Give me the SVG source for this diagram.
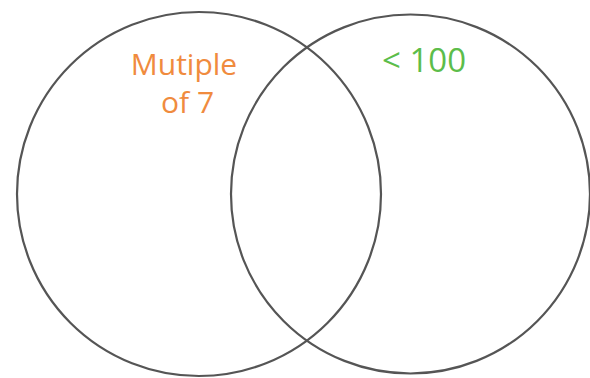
<svg xmlns="http://www.w3.org/2000/svg" width="590" height="378" viewBox="0 0 590 378">
<style>
.c{fill:none;stroke:#555;stroke-width:2.2}
.t{font-family:"Open Sans","Noto Sans",sans-serif;text-anchor:middle}
.o{fill:#f08b3e;font-size:30px;font-weight:500}
.g{fill:#5cbd4a;font-size:33px;font-weight:400}
</style>
<rect width="590" height="378" fill="#fff"/>
<g id="setA">
<circle class="c" cx="199" cy="194" r="182"/>
<text class="t o" x="184" y="75">Mutiple</text>
<text class="t o" x="187.5" y="113">of 7</text>
</g>
<g id="setB">
<circle class="c" cx="410.5" cy="194" r="179.5"/>
<text class="t g" x="424" y="72">&lt; 100</text>
</g>
<g id="connectors"/>
</svg>
